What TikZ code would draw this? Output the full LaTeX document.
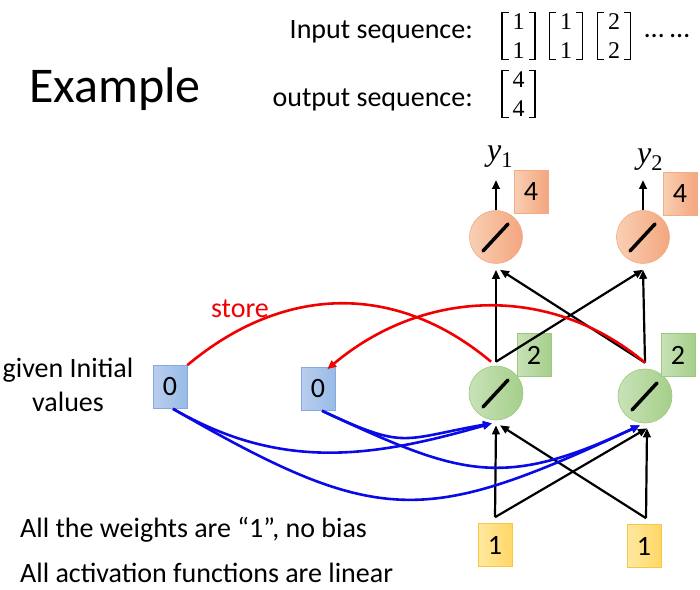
\documentclass[tikz,border=0pt]{standalone}
\usepackage{fontspec}
\setmainfont{Carlito}
\newfontfamily\vecfont{Liberation Serif}
\usetikzlibrary{arrows.meta}

\definecolor{memL}{HTML}{B9CEEE}
\definecolor{memR}{HTML}{98BBE6}
\definecolor{memE}{HTML}{86AADF}
\definecolor{hidL}{HTML}{C8E2B8}
\definecolor{hidR}{HTML}{A5CF8A}
\definecolor{hidE}{HTML}{9CC880}
\definecolor{outL}{HTML}{F9CFB3}
\definecolor{outR}{HTML}{F3A67F}
\definecolor{outE}{HTML}{F2AC86}
\definecolor{inL}{HTML}{FFE8A0}
\definecolor{inR}{HTML}{FFD766}
\definecolor{inE}{HTML}{F7C548}
\definecolor{storeRed}{HTML}{F00000}
\definecolor{wBlue}{HTML}{0A0AE6}

% brackets around a column vector node
\newcommand{\vbrack}[1]{%
  \draw[brk] ([shift={(-10,23.5)}]#1.center) -- ([shift={(-16.5,23.5)}]#1.center)
    -- ([shift={(-16.5,-23.5)}]#1.center) -- ([shift={(-10,-23.5)}]#1.center);
  \draw[brk] ([shift={(10,23.5)}]#1.center) -- ([shift={(16.5,23.5)}]#1.center)
    -- ([shift={(16.5,-23.5)}]#1.center) -- ([shift={(10,-23.5)}]#1.center);}

\tikzset{
  txt/.style={font=\fontsize{28}{33}\selectfont, inner sep=0pt},
  valbox/.style={draw, line width=0.6pt, inner sep=0pt, minimum width=34pt,
    minimum height=43pt, font=\fontsize{28}{33}\selectfont},
  membox/.style={valbox, draw=memE, left color=memL, right color=memR},
  hidbox/.style={valbox, draw=hidE, left color=hidL, right color=hidR},
  outbox/.style={valbox, draw=outE, left color=outL, right color=outR},
  inbox/.style={valbox, draw=inE, left color=inL, right color=inR},
  neuron/.style={circle, inner sep=0pt, minimum size=54pt, line width=0.6pt},
  hidcirc/.style={neuron, draw=hidE, left color=hidL, right color=hidR},
  outcirc/.style={neuron, draw=outE, left color=outL, right color=outR},
  slash/.style={line width=3.5pt, line cap=round},
  vec/.style={inner sep=0pt, align=center, font=\fontsize{24}{29}\selectfont\vecfont},
  brk/.style={line width=1.6pt},
  ylab/.style={inner sep=0pt, font=\fontsize{32}{38}\selectfont\vecfont\itshape},
  arr/.style={line width=2.2pt, -{Triangle[length=9pt,width=7.5pt]}},
  warr/.style={line width=2.6pt, wBlue, -{Triangle[length=9pt,width=7.5pt]}},
  sarr/.style={line width=2.6pt, storeRed},
}

\begin{document}
\begin{tikzpicture}[x=1pt,y=1pt]
  \useasboundingbox (0,0) rectangle (700,589);

  % title and sequences
  \node[anchor=base west, inner sep=0pt, font=\fontsize{50}{60}\selectfont]
    (title) at (29,486) {Example};
  \node[txt, anchor=base east] (inlab) at (473,550) {Input sequence:};
  \node[txt, anchor=base east] (outlab) at (473,482) {output sequence:};
  \node[vec] (in1) at (518.5,553) {1\\[0pt]1};
  \node[vec] (in2) at (566,553) {1\\[0pt]1};
  \node[vec] (in3) at (614,553) {2\\[0pt]2};
  \node[txt] (dots) at (667,553) {… …};
  \node[vec] (out1) at (518.5,495) {4\\[0pt]4};
  \vbrack{in1}
  \vbrack{in2}
  \vbrack{in3}
  \vbrack{out1}

  % network
  \node[membox] (m1) at (170,202) {0};
  \node[membox] (m2) at (318,200) {0};
  \node[hidcirc] (h1) at (496,196) {};
  \node[hidcirc] (h2) at (645,193) {};
  \node[hidbox] (w1) at (534,234) {2};
  \node[hidbox] (w2) at (678,234) {2};
  \node[outcirc, minimum size=53pt] (o1) at (496,352) {};
  \node[outcirc, minimum size=53pt] (o2) at (643,352) {};
  \node[outbox] (v1) at (531,397) {4};
  \node[outbox] (v2) at (680,395) {4};
  \node[inbox] (x1) at (495,44) {1};
  \node[inbox] (x2) at (644,43) {1};
  \node[ylab] (y1) at (500,432) {y\textsubscript{\upshape 1}};
  \node[ylab] (y2) at (650,429) {y\textsubscript{\upshape 2}};
  \coordinate (t1) at (496,409);
  \coordinate (t2) at (643,409);

  % linear activation marks
  \draw[slash] ([shift={(-13,-14)}]h1.center) -- ([shift={(12,13)}]h1.center);
  \draw[slash] ([shift={(-13,-14)}]h2.center) -- ([shift={(12,13)}]h2.center);
  \draw[slash] ([shift={(-13,-14)}]o1.center) -- ([shift={(12,13)}]o1.center);
  \draw[slash] ([shift={(-13,-14)}]o2.center) -- ([shift={(12,13)}]o2.center);

  % inputs to hidden
  \draw[arr] ([yshift=6pt]x1.north) -- ([yshift=-5pt]h1.south);
  \draw[arr] ([yshift=6pt]x1.north) -- ([xshift=2pt,yshift=-5pt]h2.south);
  \draw[arr] ([xshift=2pt,yshift=6pt]x2.north) -- ([xshift=2pt,yshift=-5pt]h2.south);
  \draw[arr] ([xshift=2pt,yshift=6pt]x2.north) -- ([xshift=4pt,yshift=-5pt]h1.south);

  % hidden to output
  \draw[arr] ([yshift=4pt]h1.north) -- ([yshift=-6pt]o1.south);
  \draw[arr] ([yshift=4pt]h1.north) -- ([yshift=-6pt]o2.south);
  \draw[arr] ([yshift=6pt]h2.north) -- ([yshift=-6pt]o2.south);
  \draw[arr] ([yshift=6pt]h2.north) -- ([xshift=4pt,yshift=-6pt]o1.south);
  \draw[arr] (o1.north) -- (t1);
  \draw[arr] (o2.north) -- (t2);

  % store
  \draw[sarr] (m1.north east) to[out=40,in=140,looseness=1.05]
    ([xshift=-5pt,yshift=4pt]h1.north);
  \draw[sarr, -{Triangle[length=9pt,width=7.5pt]}] ([yshift=6pt]h2.north)
    to[out=140,in=40] ([xshift=-8pt,yshift=-2pt]m2.north east);
  \node[txt, anchor=base, text=storeRed] (store) at (240,271) {store};

  % memory to hidden
  \draw[warr] ([xshift=3pt]m1.south) to[out=-30,in=196,looseness=1.0]
    ([xshift=-4pt,yshift=-3pt]h1.south);
  \draw[warr] ([xshift=3pt]m1.south) to[out=-30,in=205,looseness=1.3]
    ([xshift=-5pt,yshift=-2pt]h2.south);
  \draw[warr] ([xshift=4pt]m2.south) to[out=-25,in=190,looseness=1.4]
    ([xshift=-4pt,yshift=-3pt]h1.south);
  \draw[warr] ([xshift=4pt]m2.south) to[out=-25,in=205,looseness=1.23]
    ([xshift=-5pt,yshift=-2pt]h2.south);

  % notes
  \node[txt, anchor=base, align=center] (given) at (68,178) {given Initial\\[1pt]values};
  \node[txt, anchor=base west] (note1) at (20,52) {All the weights are “1”, no bias};
  \node[txt, anchor=base west] (note2) at (20,7) {All activation functions are linear};
\end{tikzpicture}
\end{document}
